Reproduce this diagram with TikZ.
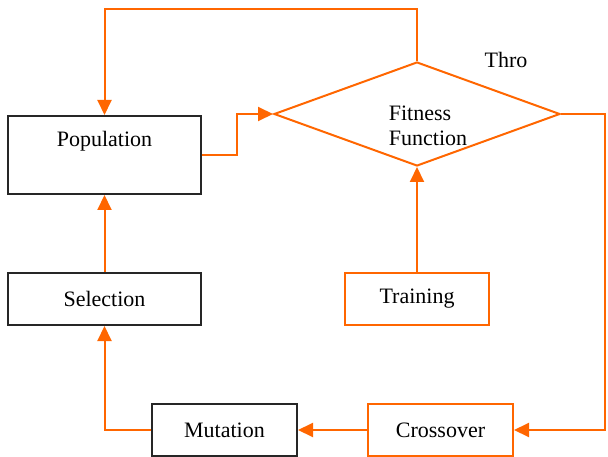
\documentclass[tikz,border=0pt]{standalone}
\usepackage{fontspec}
\setmainfont{Liberation Serif}
\usetikzlibrary{shapes.geometric,arrows.meta}
\definecolor{gaorange}{RGB}{255,102,0}

\begin{document}
\begin{tikzpicture}[x=1pt,y=-1pt,
  font=\fontsize{22}{25}\selectfont,
  blackbox/.style={draw=black!85, line width=2pt, rectangle, inner sep=0pt},
  orangebox/.style={draw=gaorange, line width=2pt, rectangle, inner sep=0pt},
  flow/.style={draw=gaorange, line width=2pt, -{Triangle[length=15pt,width=14pt]}}]
	\useasboundingbox (0,0) rectangle (608,457);

	% boxes
	\node[blackbox, minimum width=193pt, minimum height=78pt, text height=12pt, text depth=28pt] (population) at (104.5,155) {Population};
	\node[blackbox, minimum width=193pt, minimum height=52pt] (selection) at (104.5,299) {Selection};
	\node[orangebox, minimum width=144pt, minimum height=52pt] (training) at (417,299) {Training};
	\node[blackbox, minimum width=145pt, minimum height=52pt] (mutation) at (224.5,430) {Mutation};
	\node[orangebox, minimum width=145pt, minimum height=52pt] (crossover) at (440.5,430) {Crossover};
	\node[diamond, draw=gaorange, line width=2pt, aspect=2.7, minimum width=286pt, minimum height=104pt, inner sep=0pt,
	      label={[align=left, xshift=11pt, yshift=-12pt]center:Fitness\\Function}] (fitness) at (417,114) {};
	\node (thro) at (506,60) {Thro};

	% turning points
	\coordinate (topturn) at (417,9);
	\coordinate (rightturn) at (605,114);

	% connectors
	\draw[flow] (fitness.north) -- (topturn) -| (population.north);
	\draw[flow] (population.east) -- ++(35,0) |- (fitness.west);
	\draw[flow] (training) -- (fitness.south);
	\draw[flow] (fitness.east) -- (rightturn) |- (crossover.east);
	\draw[flow] (crossover) -- (mutation);
	\draw[flow] (mutation.west) -| (selection.south);
	\draw[flow] (selection) -- (population);
\end{tikzpicture}
\end{document}
